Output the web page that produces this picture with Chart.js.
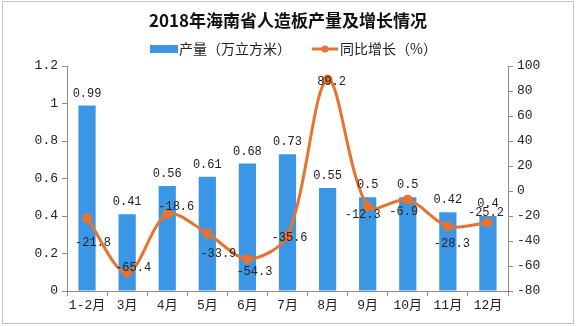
<!DOCTYPE html>
<html>
<head>
<meta charset="utf-8">
<script src="https://cdn.jsdelivr.net/npm/chart.js"></script>
<style>
  html, body { margin: 0; padding: 0; background: #fff; }
  #wrap { width: 576px; height: 326px; position: relative; }
</style>
</head>
<body>
<div id="wrap"><canvas id="myChart" width="576" height="326"></canvas></div>
<script>
const categories = ['1-2月', '3月', '4月', '5月', '6月', '7月', '8月', '9月', '10月', '11月', '12月'];
const outputValues = [0.99, 0.41, 0.56, 0.61, 0.68, 0.73, 0.55, 0.5, 0.5, 0.42, 0.4];
const growthValues = [-21.8, -65.4, -18.6, -33.9, -54.3, -35.6, 89.2, -12.3, -6.9, -28.3, -25.2];
const leftTicks = [0, 0.2, 0.4, 0.6, 0.8, 1, 1.2];
const rightTicks = [-80, -60, -40, -20, 0, 20, 40, 60, 80, 100];

const titleText = '2018年海南省人造板产量及增长情况';
const outputLabel = '产量（万立方米）';
const growthLabel = '同比增长（%）';

// where each growth label sits relative to its point (hand placed in the original)
const growthLabelShift = [[6, 25], [6, -5], [9, -7], [11, 20], [7, 13], [2, 2], [4, 2], [-5, 8], [-4, 12], [4, 17], [-2, -10]];

const BLUE = '#3b97e6';
const ORANGE = '#e6732f';
const AXIS = '#8c8c8c';
const TEXT = '#222';
const MONO = '"Liberation Mono", "Noto Sans CJK SC", monospace';
const CJK = '"Noto Sans CJK SC", sans-serif';

const decorPlugin = {
    id: 'decor',
    beforeDraw(chart) {
        const ctx = chart.ctx;
        ctx.save();
        ctx.fillStyle = '#fff';
        ctx.fillRect(0, 0, chart.width, chart.height);
        ctx.strokeStyle = '#c4c4c4';
        ctx.lineWidth = 1;
        ctx.strokeRect(2.5, 1.5, chart.width - 5, chart.height - 4);
        ctx.restore();
    },
    afterDraw(chart) {
        const ctx = chart.ctx;
        ctx.save();
        // title
        ctx.fillStyle = '#111';
        ctx.font = 'bold 17px ' + CJK;
        ctx.textAlign = 'center';
        ctx.textBaseline = 'middle';
        ctx.fillText(titleText, 288, 21);

        // legend
        ctx.font = '14px ' + CJK;
        ctx.textAlign = 'left';
        ctx.fillStyle = BLUE;
        ctx.fillRect(150, 45, 28, 8);
        ctx.fillStyle = TEXT;
        ctx.fillText(outputLabel, 179, 49);

        ctx.strokeStyle = ORANGE;
        ctx.lineWidth = 3;
        ctx.beginPath();
        ctx.moveTo(312, 49);
        ctx.lineTo(338, 49);
        ctx.stroke();
        ctx.fillStyle = ORANGE;
        ctx.beginPath();
        ctx.arc(325, 49, 3.5, 0, Math.PI * 2);
        ctx.fill();
        ctx.fillStyle = TEXT;
        ctx.fillText(growthLabel, 340, 49);
        ctx.restore();
    },
    afterDatasetsDraw(chart) {
        const ctx = chart.ctx;
        ctx.save();
        ctx.font = '12px ' + MONO;
        ctx.fillStyle = TEXT;
        ctx.textAlign = 'center';

        const barMeta = chart.getDatasetMeta(1);
        ctx.textBaseline = 'bottom';
        barMeta.data.forEach((bar, i) => {
            ctx.fillText(String(outputValues[i]), bar.x, bar.y - 6);
        });

        const lineMeta = chart.getDatasetMeta(0);
        ctx.textBaseline = 'middle';
        lineMeta.data.forEach((pt, i) => {
            const s = growthLabelShift[i];
            ctx.fillText(String(growthValues[i]), pt.x + s[0], pt.y + s[1]);
        });
        ctx.restore();
    }
};

const ctx = document.getElementById('myChart').getContext('2d');

new Chart(ctx, {
    type: 'bar',
    data: {
        labels: categories,
        datasets: [
            {
                type: 'line',
                label: growthLabel,
                data: growthValues,
                yAxisID: 'y2',
                borderColor: ORANGE,
                backgroundColor: ORANGE,
                borderWidth: 3,
                tension: 0.32,
                pointRadius: 3.5,
                pointBackgroundColor: ORANGE,
                pointBorderColor: ORANGE,
                fill: false,
                order: 0
            },
            {
                type: 'bar',
                label: outputLabel,
                data: outputValues,
                yAxisID: 'y',
                backgroundColor: BLUE,
                categoryPercentage: 1,
                barPercentage: 0.43,
                order: 1
            }
        ]
    },
    options: {
        responsive: false,
        animation: false,
        layout: { padding: { top: 66, left: 0, right: 0, bottom: 0 } },
        plugins: {
            legend: { display: false },
            title: { display: false },
            tooltip: { enabled: false }
        },
        scales: {
            x: {
                offset: true,
                grid: { offset: true, drawOnChartArea: false, tickLength: 5, tickColor: AXIS },
                border: { color: AXIS },
                ticks: { color: TEXT, font: { family: MONO, size: 13 }, padding: 2, maxRotation: 0, autoSkip: false },
                afterFit(scale) { scale.height = 35; }
            },
            y: {
                position: 'left',
                min: 0,
                max: 1.2,
                afterBuildTicks(scale) { scale.ticks = leftTicks.map(v => ({ value: v })); },
                grid: { drawOnChartArea: false, tickLength: 5, tickColor: AXIS },
                border: { color: AXIS },
                ticks: { color: TEXT, font: { family: MONO, size: 13 }, padding: 4, callback: v => String(v) },
                afterFit(scale) { scale.width = 67; }
            },
            y2: {
                position: 'right',
                min: -80,
                max: 100,
                afterBuildTicks(scale) { scale.ticks = rightTicks.map(v => ({ value: v })); },
                grid: { drawOnChartArea: false, tickLength: 5, tickColor: AXIS },
                border: { color: AXIS },
                ticks: { color: TEXT, font: { family: MONO, size: 13 }, padding: 4, callback: v => String(v) },
                afterFit(scale) { scale.width = 68; }
            }
        }
    },
    plugins: [decorPlugin]
});
</script>
</body>
</html>
